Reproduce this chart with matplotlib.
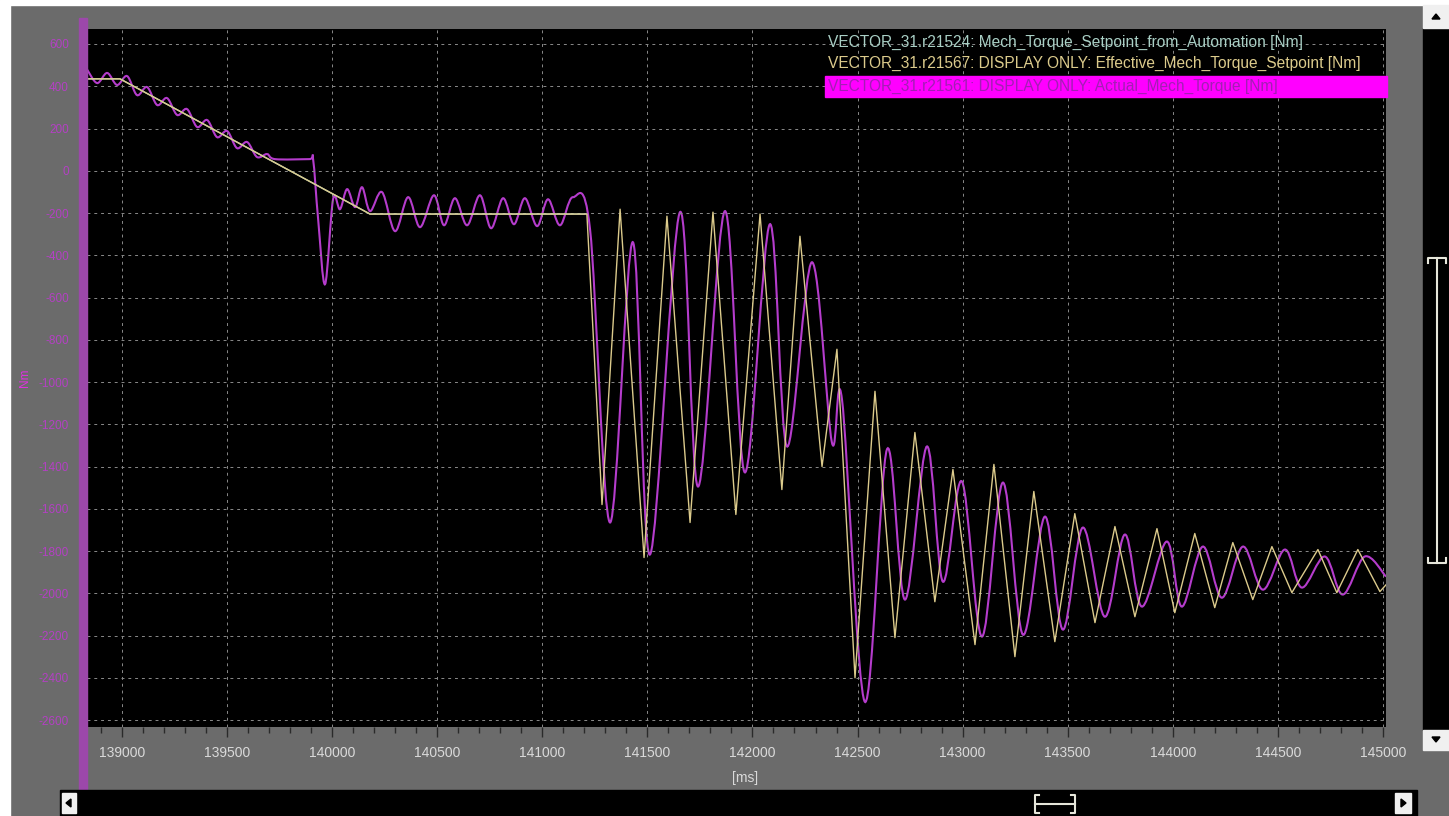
import matplotlib
matplotlib.use("Agg")
import matplotlib.pyplot as plt
from matplotlib.patches import Rectangle, Polygon, PathPatch
from matplotlib.path import Path
from matplotlib.ticker import MultipleLocator

plt.rcParams["font.family"] = ["Liberation Sans", "DejaVu Sans"]

# r21524 - torque setpoint coming from automation [Nm]
auto_t = [138833, 138990, 140180, 141203]
auto_v = [435, 435, -205, -205]

# r21567 - effective torque setpoint [Nm]
eff_t = [138833, 138990, 140180, 141212, 141235, 141284, 141370, 141484, 141593,
         141703, 141812, 141921, 142036, 142140, 142226, 142331, 142402, 142488,
         142583, 142678, 142773, 142868, 142954, 143059, 143149, 143249, 143339,
         143439, 143534, 143630, 143725, 143820, 143925, 144010, 144105, 144200,
         144286, 144381, 144472, 144567, 144691, 144781, 144881, 144986, 145015]
eff_v = [435, 435, -205, -205, -640, -1580, -182, -1831, -215,
         -1665, -196, -1627, -205, -1509, -310, -1400, -845, -2400,
         -1044, -2210, -1239, -2040, -1414, -2243, -1390, -2300, -1518,
         -2229, -1623, -2139, -1684, -2111, -1694, -2092, -1717, -2068,
         -1760, -2030, -1779, -1997, -1793, -1997, -1793, -1992, -1960]

# r21561 - actual torque [Nm]
act_t = [138833, 138881, 138929, 138976, 139024, 139071, 139119, 139167, 139214,
         139262, 139309, 139357, 139405, 139452, 139500, 139547, 139595, 139642,
         139690, 139728, 139890, 139909, 139933, 139966, 140004, 140037, 140071,
         140109, 140142, 140180, 140237, 140299, 140361, 140418, 140484, 140532,
         140584, 140642, 140703, 140756, 140813, 140865, 140917, 140975, 141027,
         141084, 141146,
         141227, 141322, 141431, 141512, 141655, 141741, 141869, 141964, 142083,
         142164, 142283, 142378, 142426, 142535, 142640, 142726, 142830, 142906,
         142997, 143092, 143192, 143287, 143392, 143477, 143572, 143677, 143772,
         143853, 143972, 144043, 144143, 144234, 144334, 144429, 144534, 144614,
         144724, 144809, 144914, 145015]
act_v = [480, 415, 463, 406, 448, 358, 396, 311, 344,
         264, 292, 207, 240, 159, 188, 107, 136, 65,
         79, 55, 55, 55, -229, -537, -135, -182, -87,
         -172, -78, -191, -101, -286, -125, -267, -116, -258,
         -130, -258, -116, -272, -130, -253, -130, -262, -135,
         -258, -125,
         -277, -1665, -338, -1817, -196, -1495, -191, -1428, -253,
         -1305, -433, -1286, -1082, -2514, -1319, -2030, -1305, -1945,
         -1471, -2205, -1476, -2196, -1637, -2172, -1689, -2111, -1722,
         -2063, -1755, -2063, -1779, -2021, -1779, -1983, -1793, -1973,
         -1826, -2006, -1826, -1921]

x_ticks = [139000, 139500, 140000, 140500, 141000, 141500, 142000,
           142500, 143000, 143500, 144000, 144500, 145000]
y_ticks = [600, 400, 200, 0, -200, -400, -600, -800, -1000, -1200,
           -1400, -1600, -1800, -2000, -2200, -2400, -2600]

legend_labels = [
    "VECTOR_31.r21524: Mech_Torque_Setpoint_from_Automation [Nm]",
    "VECTOR_31.r21567: DISPLAY ONLY: Effective_Mech_Torque_Setpoint [Nm]",
    "VECTOR_31.r21561: DISPLAY ONLY: Actual_Mech_Torque [Nm]",
]

AUTO_C = "#a9cfc5"
EFF_C = "#dccb8c"
ACT_C = "#b53ccc"


def smooth_path(xs, ys):
    # cubic bezier through every sample (catmull-rom tangents)
    pts = list(zip(xs, ys))
    n = len(pts)
    verts = [pts[0]]
    codes = [Path.MOVETO]
    for i in range(n - 1):
        p0 = pts[max(i - 1, 0)]
        p1 = pts[i]
        p2 = pts[i + 1]
        p3 = pts[min(i + 2, n - 1)]
        c1 = (p1[0] + (p2[0] - p0[0]) / 6, p1[1] + (p2[1] - p0[1]) / 6)
        c2 = (p2[0] - (p3[0] - p1[0]) / 6, p2[1] - (p3[1] - p1[1]) / 6)
        verts += [c1, c2, p2]
        codes += [Path.CURVE4] * 3
    return Path(verts, codes)


W, H = 1449, 816
fig = plt.figure(figsize=(W / 100, H / 100), dpi=100, facecolor="#6b6b6b")

# trace area
ax = fig.add_axes([87 / W, (H - 727) / H, (1386 - 87) / W, (727 - 29) / H])
ax.set_facecolor("black")
ax.plot(auto_t, auto_v, color=AUTO_C, lw=1.0)
ax.plot(eff_t, eff_v, color=EFF_C, lw=1.0)
ax.add_patch(PathPatch(smooth_path(act_t, act_v), fill=False,
                       edgecolor=ACT_C, lw=1.5))
ax.set_xlim(138833, 145015)
ax.set_ylim(-2633, 671)

ax.set_xticks(x_ticks)
ax.set_xticklabels([str(t) for t in x_ticks])
ax.set_yticks(y_ticks)
ax.set_yticklabels([str(v) for v in y_ticks])
ax.xaxis.set_minor_locator(MultipleLocator(100))
ax.grid(True, which="major", color="#8a8a8a", ls=(0, (3, 4)), lw=0.7)
for s in ax.spines.values():
    s.set_visible(False)
ax.tick_params(axis="x", which="major", direction="out", length=7, width=1,
               color="#2a2a2a", labelcolor="#dadada", labelsize=10, pad=7)
ax.tick_params(axis="x", which="minor", direction="out", length=4, width=1,
               color="#2a2a2a")
ax.tick_params(axis="y", length=0, labelcolor="#b440c4", labelsize=8.5, pad=13)

# window chrome drawn in pixel coordinates on top
ui = fig.add_axes([0, 0, 1, 1], zorder=5)
ui.set_xlim(0, W)
ui.set_ylim(H, 0)
ui.set_axis_off()

ui.add_patch(Rectangle((0, 0), W, 5, color="white"))
ui.add_patch(Rectangle((0, 0), 10, H, color="white"))
ui.add_patch(Rectangle((79, 18), 8, 772, color="#9c48aa"))
ui.text(25, 378, "Nm", rotation=90, color="#e030e0", fontsize=8.5,
        ha="center", va="center")
ui.text(745, 778, "[ms]", color="#dadada", fontsize=10, ha="center", va="center")

# legend
ui.add_patch(Rectangle((825, 76), 562, 21, color="#ff00ff"))
ui.text(828, 42, legend_labels[0], color=AUTO_C, fontsize=11.2, va="center")
ui.text(828, 63, legend_labels[1], color=EFF_C, fontsize=11.2, va="center")
ui.text(828, 86, legend_labels[2], color="#a21fb4", fontsize=11.2, va="center")

# vertical scrollbar
ui.add_patch(Rectangle((1423, 28), 26, 702, color="black"))
ui.add_patch(Rectangle((1423, 5), 26, 23, color="#f0f0f0"))
ui.add_patch(Polygon([[1432, 19], [1440, 19], [1436, 14]], color="black"))
ui.add_patch(Rectangle((1423, 730), 26, 20, color="#f0f0f0"))
ui.add_patch(Polygon([[1432, 737], [1440, 737], [1436, 742]], color="black"))
thumb_c = "#e6e6da"
ui.plot([1428, 1428, 1446, 1446], [263, 258, 258, 263], color=thumb_c, lw=1.5)
ui.plot([1437, 1437], [258, 563], color=thumb_c, lw=1.5)
ui.plot([1428, 1428, 1446, 1446], [558, 563, 563, 558], color=thumb_c, lw=1.5)

# horizontal scrollbar
ui.add_patch(Rectangle((60, 790), 1357, 26, color="black"))
ui.add_patch(Rectangle((62, 793), 14, 20, color="#f0f0f0"))
ui.add_patch(Polygon([[71, 799], [71, 807], [66, 803]], color="black"))
ui.add_patch(Rectangle((1395, 793), 16, 20, color="#f0f0f0"))
ui.add_patch(Polygon([[1401, 799], [1401, 807], [1406, 803]], color="black"))
ui.plot([1039, 1035, 1035, 1039], [795, 795, 813, 813], color=thumb_c, lw=1.5)
ui.plot([1071, 1075, 1075, 1071], [795, 795, 813, 813], color=thumb_c, lw=1.5)
ui.plot([1035, 1075], [804, 804], color=thumb_c, lw=1.5)

fig.savefig("out.png", dpi=100, facecolor=fig.get_facecolor())
